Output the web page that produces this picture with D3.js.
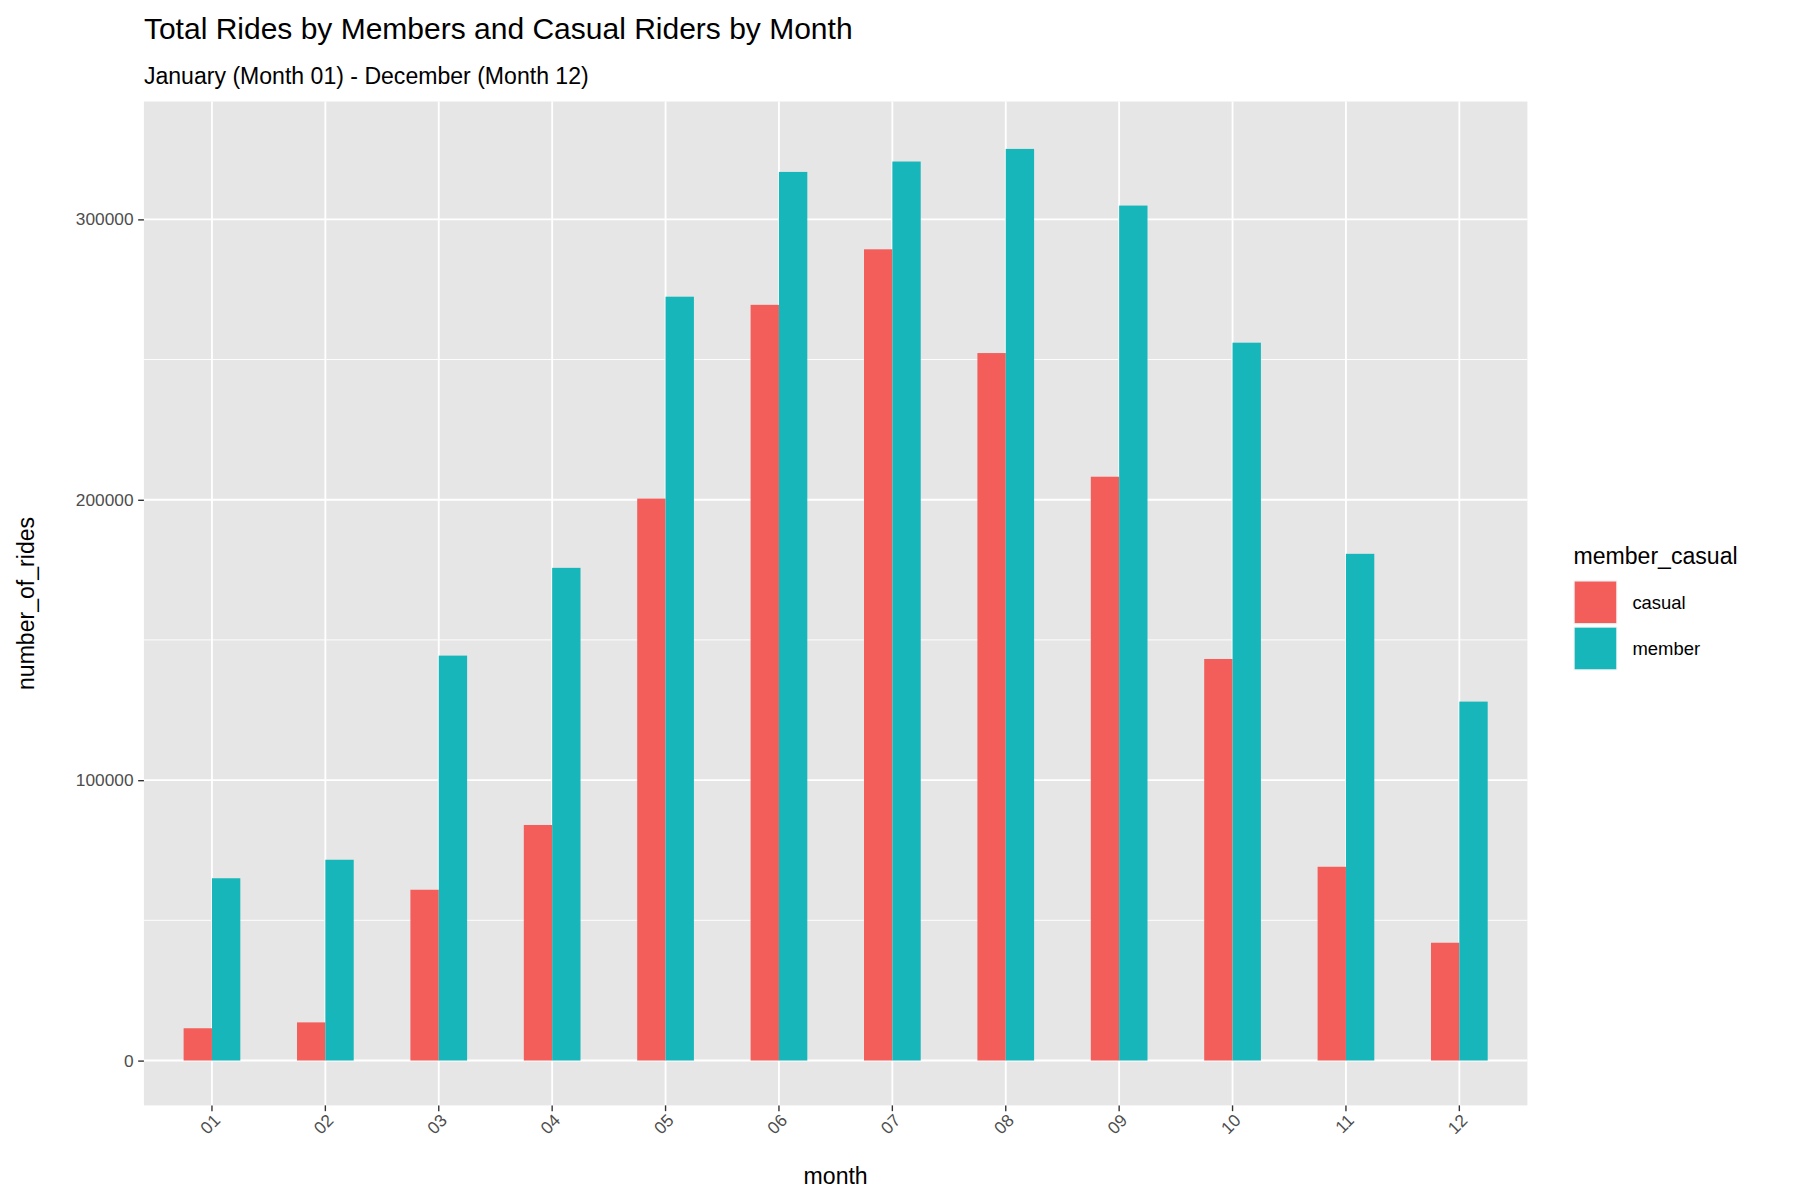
<!DOCTYPE html>
<html><head><meta charset="utf-8">
<script src="https://cdn.jsdelivr.net/npm/d3@7"></script>
<style>body{margin:0;background:#fff}text{font-family:"Liberation Sans",Arial,sans-serif}</style>
</head><body>
<script>
// data
var months = ["01","02","03","04","05","06","07","08","09","10","11","12"];
var groups = ["casual","member"];
var casual = [11500,13600,60900,84000,200400,269500,289300,252300,208200,143200,69100,42000];
var member = [65000,71600,144400,175700,272400,316900,320600,325100,304900,256000,180700,128000];
var yTicks = [0,100000,200000,300000];
var colors = {casual:"#F35E5A", member:"#17B6BA"};

var svg = d3.select("body").append("svg")
  .attr("width",1804).attr("height",1200)
  .attr("viewBox","0 0 1560 1040");

var L=123,R=1322,T=88,B=958;
var x = d3.scaleBand().domain(months).range([L,R]).paddingOuter(0.1).paddingInner(0);
var y = d3.scaleLinear().domain([-16000,342000]).range([B,T]);

svg.append("rect").attr("x",L).attr("y",T).attr("width",R-L).attr("height",B-T).attr("fill","#E6E6E6");

// minor grid
var minor = [50000,150000,250000];
svg.selectAll(".minor").data(minor).enter().append("line")
  .attr("x1",L).attr("x2",R).attr("y1",d=>y(d)).attr("y2",d=>y(d))
  .attr("stroke","#fff").attr("stroke-width",0.8);
svg.selectAll(".major").data(yTicks).enter().append("line")
  .attr("x1",L).attr("x2",R).attr("y1",d=>y(d)).attr("y2",d=>y(d))
  .attr("stroke","#fff").attr("stroke-width",1.6);
svg.selectAll(".vg").data(months).enter().append("line")
  .attr("x1",d=>x(d)+x.bandwidth()/2).attr("x2",d=>x(d)+x.bandwidth()/2)
  .attr("y1",T).attr("y2",B).attr("stroke","#fff").attr("stroke-width",1.6);

// bars
var bw = x.bandwidth()*0.25;
var rows = months.map((m,i)=>({m:m, casual:casual[i], member:member[i]}));
groups.forEach(function(g,gi){
  svg.selectAll(".b"+g).data(rows).enter().append("rect")
    .attr("x",d=>x(d.m)+x.bandwidth()/2-bw+gi*bw)
    .attr("width",bw)
    .attr("y",d=>y(d[g])).attr("height",d=>y(0)-y(d[g]))
    .attr("fill",colors[g]);
});

// axes
var yAxis = svg.append("g").attr("transform","translate("+L+",0)")
  .call(d3.axisLeft(y).tickValues(yTicks).tickFormat(d3.format("d")).tickSize(5).tickPadding(4));
var xAxis = svg.append("g").attr("transform","translate(0,"+B+")")
  .call(d3.axisBottom(x).tickSize(5));
[yAxis,xAxis].forEach(function(a){
  a.select(".domain").remove();
  a.selectAll("line").attr("stroke","#333").attr("stroke-width",1.2);
  a.selectAll("text").attr("fill","#4D4D4D").style("font-size","15px").style("font-family","Liberation Sans, Arial, sans-serif");
});
xAxis.selectAll("text").attr("text-anchor","end").attr("dy",null).attr("y",0)
  .attr("transform","translate(8,14) rotate(-45)");

svg.append("text").attr("x",(L+R)/2).attr("y",1026).attr("text-anchor","middle").style("font-size","20px").text("month");
svg.append("text").attr("transform","translate(28,"+((T+B)/2)+") rotate(-90)").attr("text-anchor","middle").style("font-size","20px").text("number_of_rides");

svg.append("text").attr("x",123).attr("y",34).style("font-size","26px").text("Total Rides by Members and Casual Riders by Month");
svg.append("text").attr("x",123).attr("y",73).style("font-size","20px").text("January (Month 01) - December (Month 12)");

// legend
var lg = svg.append("g").attr("transform","translate(1362,0)");
lg.append("text").attr("x",0).attr("y",489).style("font-size","20px").text("member_casual");
groups.forEach(function(g,i){
  lg.append("rect").attr("x",0).attr("y",503+i*40).attr("width",38).attr("height",38).attr("fill","#F2F2F2");
  lg.append("rect").attr("x",1).attr("y",504+i*40).attr("width",36).attr("height",36).attr("fill",colors[g]);
  lg.append("text").attr("x",51).attr("y",528+i*40).style("font-size","16px").text(g);
});
</script>
</body></html>
